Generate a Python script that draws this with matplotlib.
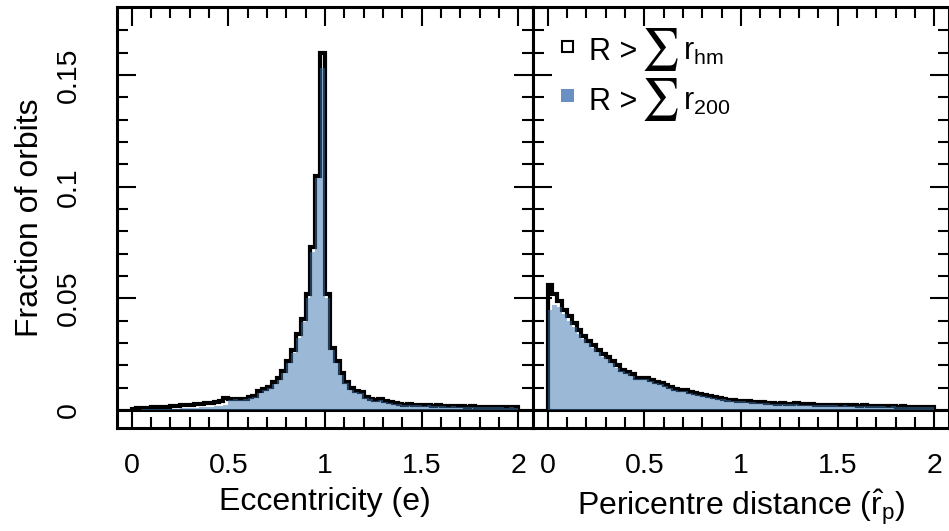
import numpy as np
import matplotlib
matplotlib.use('Agg')
import matplotlib.pyplot as plt
from matplotlib.patches import Rectangle
from matplotlib.ticker import MultipleLocator
from matplotlib.offsetbox import (TextArea, HPacker, VPacker, DrawingArea,
                                  AnchoredOffsetbox)

plt.rcParams['font.family'] = ['Liberation Sans', 'DejaVu Sans']
plt.rcParams['mathtext.fontset'] = 'custom'
plt.rcParams['mathtext.rm'] = 'Liberation Sans'
plt.rcParams['mathtext.it'] = 'Liberation Sans:italic'
plt.rcParams['mathtext.bf'] = 'Liberation Sans:bold'

# histogram bins: 0 .. 2 in steps of 0.025
bin_width = 0.025
bin_edges = np.arange(81) * bin_width

# eccentricity, R > sum r_hm (black outline)
ecc_hm = [
    0.0006, 0.0008, 0.0009, 0.0011, 0.0012, 0.0013, 0.0015, 0.0016,
    0.0018, 0.0019, 0.0021, 0.0023, 0.0024, 0.0026, 0.0028, 0.0031,
    0.0033, 0.0036, 0.0040, 0.0055, 0.0048, 0.0052, 0.0050, 0.0052,
    0.0058, 0.0065, 0.0085, 0.0095, 0.0105, 0.0125, 0.0145, 0.0175,
    0.0220, 0.0270, 0.0340, 0.0410, 0.0520, 0.0730, 0.1050, 0.1600,
    0.0520, 0.0280, 0.0220, 0.0165, 0.0127, 0.0097, 0.0085, 0.0080,
    0.0060, 0.0052, 0.0045, 0.0048, 0.0040, 0.0035, 0.0030, 0.0028,
    0.0025, 0.0026, 0.0023, 0.0024, 0.0022, 0.0023, 0.0020, 0.0021,
    0.0020, 0.0018, 0.0019, 0.0017, 0.0018, 0.0016, 0.0017, 0.0015,
    0.0016, 0.0015, 0.0016, 0.0014, 0.0015, 0.0013, 0.0014, 0.0012,
]

# eccentricity, R > sum r_200 (blue fill)
ecc_200 = [
    0.0002, 0.0002, 0.0003, 0.0003, 0.0004, 0.0004, 0.0005, 0.0005,
    0.0006, 0.0007, 0.0008, 0.0009, 0.0010, 0.0011, 0.0012, 0.0014,
    0.0016, 0.0018, 0.0020, 0.0024, 0.0045, 0.0048, 0.0047, 0.0049,
    0.0054, 0.0060, 0.0078, 0.0088, 0.0098, 0.0118, 0.0137, 0.0168,
    0.0210, 0.0258, 0.0325, 0.0395, 0.0500, 0.0710, 0.1040, 0.1530,
    0.0500, 0.0270, 0.0212, 0.0158, 0.0121, 0.0092, 0.0080, 0.0075,
    0.0056, 0.0048, 0.0042, 0.0044, 0.0037, 0.0032, 0.0028, 0.0026,
    0.0023, 0.0024, 0.0021, 0.0022, 0.0020, 0.0021, 0.0018, 0.0019,
    0.0018, 0.0016, 0.0017, 0.0015, 0.0016, 0.0014, 0.0015, 0.0013,
    0.0014, 0.0013, 0.0014, 0.0012, 0.0013, 0.0011, 0.0012, 0.0010,
]

# pericentre distance, R > sum r_hm (black outline)
peri_hm = [
    0.0560, 0.0520, 0.0490, 0.0450, 0.0420, 0.0390, 0.0360, 0.0330,
    0.0310, 0.0290, 0.0270, 0.0250, 0.0240, 0.0220, 0.0200, 0.0180,
    0.0170, 0.0160, 0.0145, 0.0145, 0.0142, 0.0135, 0.0128, 0.0120,
    0.0112, 0.0105, 0.0095, 0.0090, 0.0088, 0.0080, 0.0076, 0.0072,
    0.0068, 0.0064, 0.0058, 0.0054, 0.0050, 0.0046, 0.0044, 0.0042,
    0.0041, 0.0039, 0.0037, 0.0036, 0.0035, 0.0033, 0.0031, 0.0028,
    0.0030, 0.0029, 0.0028, 0.0030, 0.0027, 0.0026, 0.0027, 0.0025,
    0.0024, 0.0025, 0.0023, 0.0024, 0.0022, 0.0023, 0.0021, 0.0022,
    0.0020, 0.0021, 0.0019, 0.0020, 0.0018, 0.0019, 0.0017, 0.0018,
    0.0016, 0.0017, 0.0015, 0.0016, 0.0015, 0.0014, 0.0015, 0.0013,
]

# pericentre distance, R > sum r_200 (blue fill)
peri_200 = [
    0.0450, 0.0470, 0.0460, 0.0430, 0.0400, 0.0370, 0.0340, 0.0320,
    0.0300, 0.0280, 0.0260, 0.0240, 0.0230, 0.0210, 0.0190, 0.0175,
    0.0165, 0.0155, 0.0140, 0.0140, 0.0138, 0.0130, 0.0123, 0.0115,
    0.0108, 0.0100, 0.0092, 0.0087, 0.0084, 0.0077, 0.0073, 0.0069,
    0.0065, 0.0061, 0.0056, 0.0052, 0.0048, 0.0044, 0.0042, 0.0040,
    0.0039, 0.0037, 0.0035, 0.0034, 0.0033, 0.0031, 0.0029, 0.0027,
    0.0028, 0.0027, 0.0026, 0.0028, 0.0025, 0.0024, 0.0025, 0.0023,
    0.0022, 0.0023, 0.0021, 0.0022, 0.0020, 0.0021, 0.0019, 0.0020,
    0.0019, 0.0020, 0.0018, 0.0019, 0.0017, 0.0018, 0.0016, 0.0017,
    0.0015, 0.0016, 0.0014, 0.0015, 0.0014, 0.0015, 0.0013, 0.0012,
]

x_ticks = [0, 0.5, 1, 1.5, 2]
x_ticklabels = ['0', '0.5', '1', '1.5', '2']
y_ticks = [0, 0.05, 0.1, 0.15]
y_ticklabels = ['0', '0.05', '0.1', '0.15']

legend_subscripts = ['hm', '200']

fill_color = '#3b76b0'
legend_blue = '#6a8fc2'
tick_fs = 20.5
label_fs = 23

fig = plt.figure(figsize=(9.49, 5.31), dpi=100)
ax1 = fig.add_axes([117 / 949, 103 / 531, 416 / 949, 421 / 531])
ax2 = fig.add_axes([533 / 949, 103 / 531, 416 / 949, 421 / 531])

panels = [(ax1, ecc_hm, ecc_200), (ax2, peri_hm, peri_200)]
for ax, black_vals, blue_vals in panels:
    ax.axhline(0, color='black', lw=2.2, zorder=1)
    ax.stairs(black_vals, bin_edges, color='black', lw=3.0, zorder=2,
              baseline=0)
    ax.stairs(blue_vals, bin_edges, fill=True, color=fill_color, alpha=0.51,
              lw=0, zorder=3)

    ax.set_xlim(-0.075, 2.075)
    ax.set_ylim(-0.008, 0.1805)
    ax.set_xticks(x_ticks)
    ax.set_xticklabels(x_ticklabels, fontsize=tick_fs)
    ax.xaxis.set_minor_locator(MultipleLocator(0.1))
    ax.set_yticks(y_ticks)
    ax.yaxis.set_minor_locator(MultipleLocator(0.01))
    ax.tick_params(which='both', direction='in', top=True, right=True,
                   width=1.5, color='black')
    ax.tick_params(which='major', length=13.5, pad=18)
    ax.tick_params(which='minor', length=8)
    for s in ax.spines.values():
        s.set_linewidth(2.2)

ax1.set_yticklabels(y_ticklabels, rotation=90, va='center', fontsize=tick_fs)
ax1.tick_params(axis='y', which='major', pad=25)
ax2.set_yticklabels([])

ax1.set_xlabel('Eccentricity (e)', fontsize=label_fs, labelpad=6)
ax2.set_xlabel(r'Pericentre distance ($\hat{\mathrm{r}}_{\mathrm{p}}$)',
               fontsize=label_fs, labelpad=6)
ax1.set_ylabel('Fraction of orbits', fontsize=label_fs, labelpad=8)

# legend built from pieces so the summation sign can be drawn large
rows = []
for i, sub in enumerate(legend_subscripts):
    da = DrawingArea(18, 15, 0, 0)
    if i == 0:
        da.add_artist(Rectangle((1.5, 6.0), 8, 8, facecolor='white',
                                edgecolor='black', lw=1.5))
    else:
        da.add_artist(Rectangle((0.8, 5.3), 9.4, 9.4, facecolor=legend_blue,
                                edgecolor='none'))
    parts = [
        da,
        TextArea('R >', textprops=dict(fontsize=22)),
        TextArea(r'$\sum$', textprops=dict(fontsize=30,
                                           math_fontfamily='stix')),
        TextArea(r'r$_{\mathrm{%s}}$' % sub, textprops=dict(fontsize=22)),
    ]
    rows.append(HPacker(children=parts, align='baseline', pad=0, sep=3))

legend_box = VPacker(children=rows, align='left', pad=0, sep=2)
anchored = AnchoredOffsetbox(loc='upper left', child=legend_box, pad=0,
                             borderpad=0, frameon=False,
                             bbox_to_anchor=(0.064, 0.955),
                             bbox_transform=ax2.transAxes)
ax2.add_artist(anchored)

fig.savefig('out.png', dpi=100)
plt.close(fig)
